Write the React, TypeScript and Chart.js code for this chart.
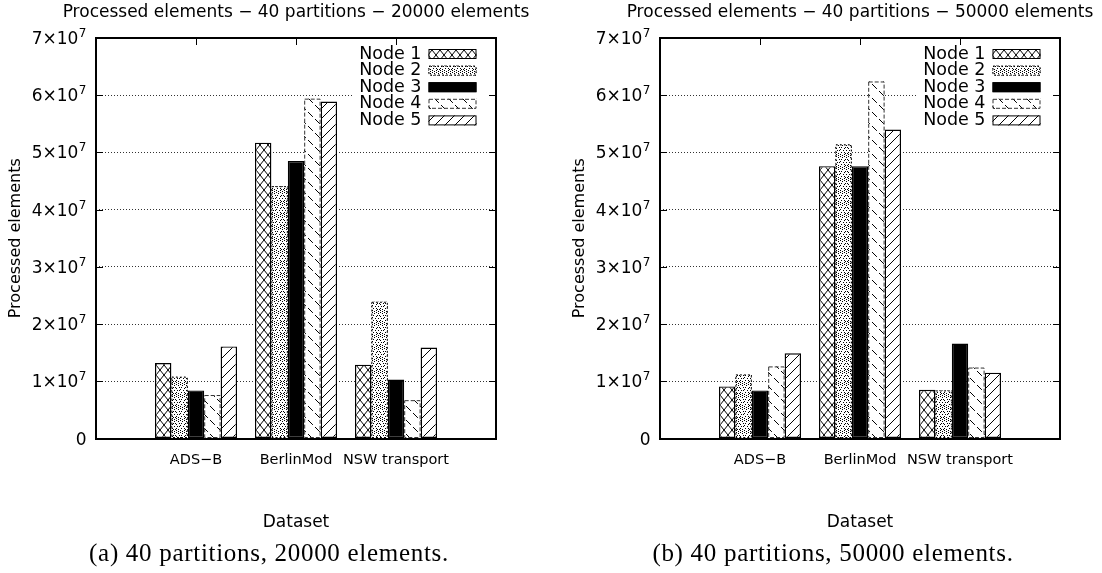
import React, { useEffect, useRef } from 'react';
import { Chart, registerables } from 'chart.js';

Chart.register(...registerables);

const CATEGORIES = ['ADS−B', 'BerlinMod', 'NSW transport'];
const NODE_LABELS = ['Node 1', 'Node 2', 'Node 3', 'Node 4', 'Node 5'];
const Y_MAX = 7e7;
const Y_STEP = 1e7;
const Y_EXPONENT = '7';

// 40 partitions, 20000 elements (values per dataset: ADS−B, BerlinMod, NSW transport)
const node1_20k = [1.32e7, 5.17e7, 1.29e7];
const node2_20k = [1.08e7, 4.41e7, 2.39e7];
const node3_20k = [0.84e7, 4.85e7, 1.03e7];
const node4_20k = [0.76e7, 5.94e7, 0.67e7];
const node5_20k = [1.61e7, 5.89e7, 1.59e7];

// 40 partitions, 50000 elements
const node1_50k = [0.91e7, 4.76e7, 0.85e7];
const node2_50k = [1.12e7, 5.14e7, 0.84e7];
const node3_50k = [0.84e7, 4.76e7, 1.66e7];
const node4_50k = [1.26e7, 6.24e7, 1.24e7];
const node5_50k = [1.49e7, 5.4e7, 1.15e7];

const SANS = "'DejaVu Sans', sans-serif";
const W = 538;
const H = 540;

type NodeStyle = { dash: number[] | null; stroke: string };
const STYLES: NodeStyle[] = [
  { dash: null, stroke: '#000' },
  { dash: [2, 2], stroke: '#000' },
  { dash: null, stroke: '#000' },
  { dash: [4, 2], stroke: '#333' },
  { dash: null, stroke: '#000' },
];

function tile(
  ctx: CanvasRenderingContext2D,
  w: number,
  h: number,
  paint: (g: CanvasRenderingContext2D, w: number, h: number) => void,
): CanvasPattern {
  const c = document.createElement('canvas');
  c.width = w;
  c.height = h;
  const g = c.getContext('2d')!;
  g.fillStyle = '#fff';
  g.fillRect(0, 0, w, h);
  g.strokeStyle = '#000';
  g.fillStyle = '#000';
  g.lineWidth = 1;
  paint(g, w, h);
  return ctx.createPattern(c, 'repeat')!;
}

function seg(g: CanvasRenderingContext2D, x1: number, y1: number, x2: number, y2: number) {
  g.beginPath();
  g.moveTo(x1, y1);
  g.lineTo(x2, y2);
  g.stroke();
}

function makeFills(ctx: CanvasRenderingContext2D): (CanvasPattern | string)[] {
  const cross = tile(ctx, 8, 10, (g, w, h) => {
    for (const k of [-1, 0, 1]) {
      seg(g, k * w, 0, k * w + w, h);
      seg(g, k * w + w, 0, k * w, h);
    }
  });
  const dots = tile(ctx, 12, 12, (g) => {
    const pts = [
      [0, 0], [2, 1], [4, 0], [6, 1], [8, 0], [10, 1],
      [1, 3], [11, 3], [0, 5], [11, 6], [1, 8], [10, 9],
      [0, 10], [2, 11], [4, 10], [6, 11], [8, 10], [10, 11],
      [3, 6], [9, 6], [6, 6],
    ];
    pts.forEach(([x, y]) => g.fillRect(x, y, 1, 1));
    // small dotted ring
    for (let a = 0; a < 10; a++) {
      const t = (a / 10) * Math.PI * 2;
      g.fillRect(Math.round(6 + 3 * Math.cos(t)), Math.round(6 + 3 * Math.sin(t)), 1, 1);
    }
  });
  const back = tile(ctx, 14, 14, (g, w, h) => {
    g.setLineDash([6.9, 3]);
    for (const k of [-1, 0, 1]) seg(g, k * w, 0, k * w + w, h);
  });
  const slash = tile(ctx, 10, 10, (g, w, h) => {
    for (const k of [-1, 0, 1]) seg(g, k * w, h, k * w + w, 0);
  });
  return [cross, dots, '#000', back, slash];
}

function decorations(title: string, fills: (CanvasPattern | string)[], labels: string[]) {
  return {
    id: 'decorations',
    afterDatasetsDraw(chart: any) {
      const { ctx, chartArea: a } = chart;
      ctx.save();

      // dashed outlines of the patterned bars
      chart.data.datasets.forEach((ds: any, i: number) => {
        const st = STYLES[i];
        if (!st.dash) return;
        ctx.setLineDash(st.dash);
        ctx.strokeStyle = st.stroke;
        ctx.lineWidth = 1;
        chart.getDatasetMeta(i).data.forEach((el: any, j: number) => {
          if (ds.data[j] == null) return;
          const { x, y, base, width } = el.getProps(['x', 'y', 'base', 'width'], true);
          ctx.strokeRect(x - width / 2 + 0.5, y + 0.5, width - 1, base - y - 1);
        });
      });
      ctx.setLineDash([]);

      // key
      const swW = 48;
      const swH = 10;
      const swRight = a.right - 19.5;
      const swLeft = swRight - swW;
      ctx.fillStyle = '#fff';
      ctx.fillRect(a.right - 143, a.top + 4, 134, 92);
      ctx.font = `17.5px ${SANS}`;
      ctx.textAlign = 'right';
      ctx.textBaseline = 'middle';
      chart.data.datasets.forEach((ds: any, i: number) => {
        const cy = a.top + 16 + i * 16.6;
        ctx.fillStyle = '#000';
        ctx.fillText(ds.label, swLeft - 7, cy);
        ctx.fillStyle = fills[i];
        ctx.fillRect(swLeft, cy - swH / 2, swW, swH);
        const st = STYLES[i];
        ctx.setLineDash(st.dash || []);
        ctx.strokeStyle = st.stroke;
        ctx.lineWidth = 1;
        ctx.strokeRect(swLeft + 0.5, cy - swH / 2 + 0.5, swW - 1, swH - 1);
        ctx.setLineDash([]);
      });
      ctx.restore();
    },
    afterDraw(chart: any) {
      const { ctx, chartArea: a, scales } = chart;
      const yScale = scales.y;
      const xScale = scales.x;
      const L = Math.round(a.left);
      const R = Math.round(a.right);
      const T = Math.round(a.top);
      const B = Math.round(a.bottom);
      ctx.save();
      ctx.fillStyle = '#000';

      // y tick labels in the form N×10^7, exponent raised
      ctx.textBaseline = 'alphabetic';
      ctx.textAlign = 'right';
      yScale.ticks.forEach((t: any) => {
        const py = yScale.getPixelForValue(t.value);
        const baseY = py + 6;
        const xEnd = L - 9.5;
        if (t.value === 0) {
          ctx.font = `17px ${SANS}`;
          ctx.fillText('0', xEnd, baseY);
          return;
        }
        ctx.font = `12px ${SANS}`;
        const expW = ctx.measureText(Y_EXPONENT).width;
        ctx.fillText(Y_EXPONENT, xEnd, baseY - 7);
        ctx.font = `17px ${SANS}`;
        ctx.fillText(`${Math.round(t.value / Y_STEP)}×10`, xEnd - expW - 0.5, baseY);
      });

      // inward tick marks on the borders
      yScale.ticks.forEach((t: any) => {
        const py = Math.round(yScale.getPixelForValue(t.value));
        ctx.fillRect(L, py, 7, 1);
        ctx.fillRect(R - 7, py, 7, 1);
      });
      CATEGORIES.forEach((c) => {
        const px = Math.round(xScale.getPixelForValue(labels.indexOf(c)));
        ctx.fillRect(px, T, 1, 7);
      });

      // plot frame, two device pixels wide
      ctx.fillRect(L - 1, T - 1, R - L + 2, 2);
      ctx.fillRect(L - 1, B - 1, R - L + 2, 2);
      ctx.fillRect(L - 1, T - 1, 2, B - T + 2);
      ctx.fillRect(R - 1, T - 1, 2, B - T + 2);

      // title
      ctx.font = `17px ${SANS}`;
      ctx.textAlign = 'center';
      ctx.textBaseline = 'alphabetic';
      ctx.fillText(title, (a.left + a.right) / 2, 16.5);
      ctx.restore();
    },
  };
}

type PanelProps = { title: string; caption: string; series: number[][]; left: number };

function Panel({ title, caption, series, left }: PanelProps) {
  const ref = useRef<HTMLCanvasElement>(null);

  useEffect(() => {
    const canvas = ref.current!;
    const ctx = canvas.getContext('2d')!;
    const fills = makeFills(ctx);
    const labels = ['', ...CATEGORIES, ''];

    const chart = new Chart(ctx, {
      type: 'bar',
      data: {
        labels,
        datasets: series.map((vals, i) => ({
          label: NODE_LABELS[i],
          data: [null, ...vals, null],
          backgroundColor: fills[i] as any,
          borderColor: '#000',
          borderWidth: STYLES[i].dash ? 0 : 1.4,
          borderSkipped: false,
          categoryPercentage: 0.82,
          barPercentage: 1,
        })),
      },
      options: {
        animation: false,
        responsive: false,
        maintainAspectRatio: false,
        layout: { padding: { left: 0, right: 42, top: 38, bottom: 0 } },
        plugins: {
          legend: { display: false },
          tooltip: { enabled: false },
          title: { display: false },
        },
        scales: {
          x: {
            type: 'category',
            offset: false,
            grid: { display: false },
            border: { display: false },
            ticks: {
              color: '#000',
              font: { family: SANS, size: 14.5 },
              padding: 5,
              autoSkip: false,
              maxRotation: 0,
            },
            title: {
              display: true,
              text: 'Dataset',
              color: '#000',
              font: { family: SANS, size: 17 },
              padding: { top: 0, bottom: 7 },
            },
            afterFit: (s: any) => {
              s.height = 101.5;
            },
          },
          y: {
            min: 0,
            max: Y_MAX,
            grid: { color: '#333', lineWidth: 1, drawTicks: false },
            border: { display: false, dash: [1, 2] },
            ticks: {
              stepSize: Y_STEP,
              display: false,
            },
            title: {
              display: true,
              text: 'Processed elements',
              color: '#000',
              font: { family: SANS, size: 16 },
              padding: { top: 6.5, bottom: 0 },
            },
            afterFit: (s: any) => {
              s.width = 96;
            },
          },
        },
      } as any,
      plugins: [decorations(title, fills, labels)],
    });
    return () => chart.destroy();
  }, []);

  return (
    <div style={{ position: 'absolute', left, top: 0, width: W, height: 573 }}>
      <canvas ref={ref} width={W} height={H} style={{ display: 'block', width: W, height: H }} />
      <div
        style={{
          position: 'absolute',
          left: 0,
          top: 539,
          width: W,
          textAlign: 'center',
          fontFamily: "'Liberation Serif', serif",
          fontSize: 25,
          lineHeight: '28px',
          letterSpacing: '0.7px',
          whiteSpace: 'nowrap',
          color: '#000',
        }}
      >
        {caption}
      </div>
    </div>
  );
}

export default function App() {
  return (
    <div
      style={{
        position: 'absolute',
        left: 0,
        top: 0,
        width: 1102,
        height: 573,
        overflow: 'hidden',
        background: '#fff',
      }}
    >
      <Panel
        left={0}
        title="Processed elements − 40 partitions − 20000 elements"
        caption="(a) 40 partitions, 20000 elements."
        series={[node1_20k, node2_20k, node3_20k, node4_20k, node5_20k]}
      />
      <Panel
        left={564}
        title="Processed elements − 40 partitions − 50000 elements"
        caption="(b) 40 partitions, 50000 elements."
        series={[node1_50k, node2_50k, node3_50k, node4_50k, node5_50k]}
      />
    </div>
  );
}
